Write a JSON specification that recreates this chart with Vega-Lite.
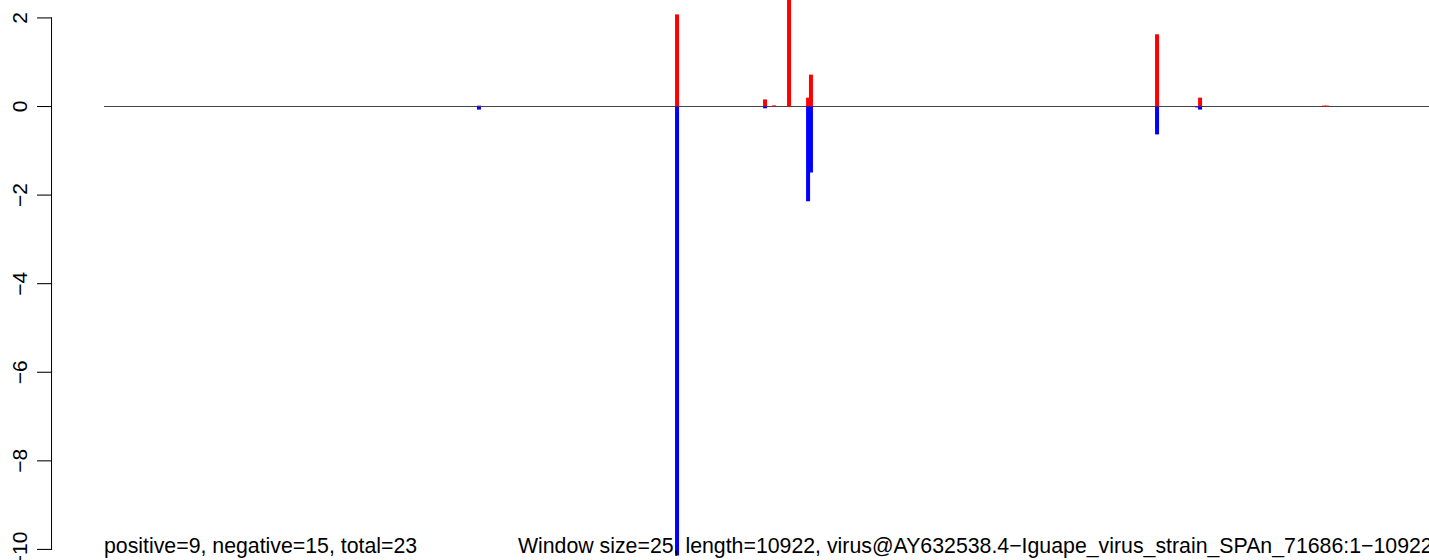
{
  "$schema": "https://vega.github.io/schema/vega-lite/v6.json",
  "width": 1429,
  "height": 531.5,
  "autosize": {"type": "none"},
  "padding": {"left": 0, "top": 17.92, "right": 0, "bottom": 10.58},
  "background": "white",
  "config": {"view": {"stroke": null}, "font": "Liberation Sans"},
  "datasets": {
    "bars": [
      {"start": 2331, "end": 2356, "value": 0.02, "strand": "pos"},
      {"start": 2331, "end": 2356, "value": -0.07, "strand": "neg"},
      {"start": 3569, "end": 3594, "value": 2.08, "strand": "pos"},
      {"start": 3569, "end": 3594, "value": -10.14, "strand": "neg"},
      {"start": 4119, "end": 4144, "value": 0.16, "strand": "pos"},
      {"start": 4119, "end": 4144, "value": -0.04, "strand": "neg"},
      {"start": 4175, "end": 4200, "value": 0.025, "strand": "pos"},
      {"start": 4269, "end": 4294, "value": 2.7, "strand": "pos"},
      {"start": 4388, "end": 4413, "value": 0.2, "strand": "pos"},
      {"start": 4388, "end": 4413, "value": -2.14, "strand": "neg"},
      {"start": 4406, "end": 4431, "value": 0.72, "strand": "pos"},
      {"start": 4406, "end": 4431, "value": -1.49, "strand": "neg"},
      {"start": 6569, "end": 6594, "value": 1.63, "strand": "pos"},
      {"start": 6569, "end": 6594, "value": -0.63, "strand": "neg"},
      {"start": 6819, "end": 6844, "value": -0.02, "strand": "neg"},
      {"start": 6838, "end": 6863, "value": 0.2, "strand": "pos"},
      {"start": 6838, "end": 6863, "value": -0.07, "strand": "neg"},
      {"start": 7612, "end": 7637, "value": 0.02, "strand": "pos"},
      {"start": 7631, "end": 7656, "value": 0.02, "strand": "pos"}
    ],
    "baseline": [{"from": 0, "to": 10922, "level": 0}],
    "axisparts": [
      {"x0": -331, "x1": -324.75, "y0": -10.012, "y1": 2.012},
      {"x0": -418.5, "x1": -324.75, "y0": -10.012, "y1": -9.988},
      {"x0": -418.5, "x1": -324.75, "y0": -8.012, "y1": -7.988},
      {"x0": -418.5, "x1": -324.75, "y0": -6.012, "y1": -5.988},
      {"x0": -418.5, "x1": -324.75, "y0": -4.012, "y1": -3.988},
      {"x0": -418.5, "x1": -324.75, "y0": -2.012, "y1": -1.988},
      {"x0": -418.5, "x1": -324.75, "y0": -0.012, "y1": 0.012},
      {"x0": -418.5, "x1": -324.75, "y0": 1.988, "y1": 2.012}
    ],
    "ticklabels": [
      {"lx": -519, "tick": -10, "text": "−10"},
      {"lx": -519, "tick": -8, "text": "−8"},
      {"lx": -519, "tick": -6, "text": "−6"},
      {"lx": -519, "tick": -4, "text": "−4"},
      {"lx": -519, "tick": -2, "text": "−2"},
      {"lx": -519, "tick": 0, "text": "0"},
      {"lx": -519, "tick": 2, "text": "2"}
    ],
    "notes": [
      {"pos": 0, "y": -10.07, "label": "positive=9, negative=15, total=23"},
      {"pos": 2587, "y": -10.07, "label": "Window size=25, length=10922, virus@AY632538.4−Iguape_virus_strain_SPAn_71686:1−10922"}
    ]
  },
  "encoding": {
    "x": {"type": "quantitative", "scale": {"domain": [-650, 8281.25], "nice": false, "zero": false}, "axis": null},
    "y": {"type": "quantitative", "scale": {"domain": [-10, 2], "nice": false, "zero": false}, "axis": null}
  },
  "layer": [
    {
      "data": {"name": "baseline"},
      "mark": {"type": "rule", "color": "#444444", "strokeWidth": 1},
      "encoding": {
        "x": {"field": "from", "type": "quantitative"},
        "x2": {"field": "to"},
        "y": {"field": "level", "type": "quantitative"}
      }
    },
    {
      "data": {"name": "axisparts"},
      "mark": {"type": "rect", "color": "#000000"},
      "encoding": {
        "x": {"field": "x0", "type": "quantitative"},
        "x2": {"field": "x1"},
        "y": {"field": "y0", "type": "quantitative"},
        "y2": {"field": "y1"}
      }
    },
    {
      "data": {"name": "ticklabels"},
      "mark": {"type": "text", "angle": 270, "align": "center", "baseline": "middle", "fontSize": 21, "color": "black", "font": "Liberation Sans"},
      "encoding": {
        "x": {"field": "lx", "type": "quantitative"},
        "y": {"field": "tick", "type": "quantitative"},
        "text": {"field": "text"}
      }
    },
    {
      "data": {"name": "bars"},
      "mark": {"type": "rect"},
      "encoding": {
        "x": {"field": "start", "type": "quantitative"},
        "x2": {"field": "end"},
        "y": {"field": "value", "type": "quantitative"},
        "y2": {"datum": 0},
        "color": {"field": "strand", "type": "nominal", "scale": {"domain": ["pos", "neg"], "range": ["#FF0000", "#0000FF"]}, "legend": null}
      }
    },
    {
      "data": {"name": "notes"},
      "mark": {"type": "text", "align": "left", "baseline": "alphabetic", "fontSize": 21.3, "color": "black", "font": "Liberation Sans"},
      "encoding": {
        "x": {"field": "pos", "type": "quantitative"},
        "y": {"field": "y", "type": "quantitative"},
        "text": {"field": "label"}
      }
    }
  ]
}
